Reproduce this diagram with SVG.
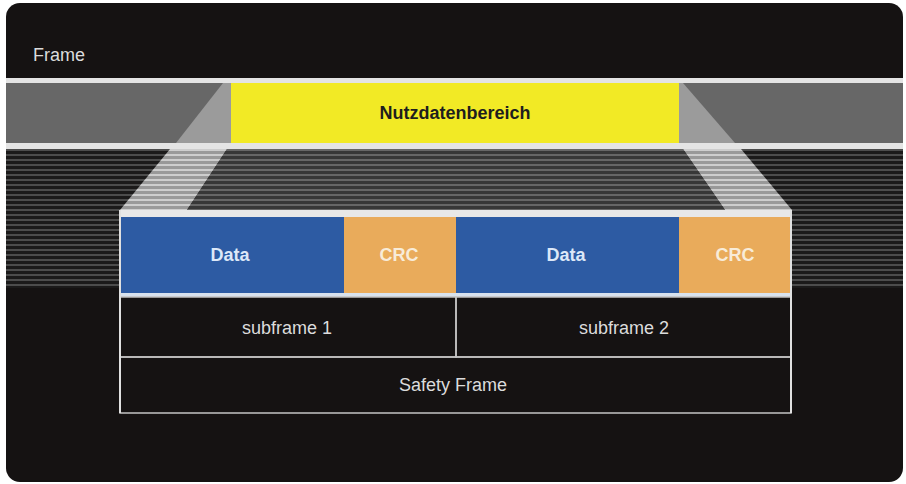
<svg xmlns="http://www.w3.org/2000/svg" width="906" height="484" viewBox="0 0 906 484">
  <defs>
    <pattern id="pDark" patternUnits="userSpaceOnUse" x="0" y="149" width="10" height="5">
      <rect width="10" height="5" fill="#1b1a1a"/>
      <rect y="0" width="10" height="2" fill="#4c4c4c"/>
    </pattern>
    <pattern id="pMid" patternUnits="userSpaceOnUse" x="0" y="149" width="10" height="5">
      <rect width="10" height="5" fill="#373737"/>
      <rect y="0" width="10" height="2" fill="#666666"/>
    </pattern>
    <pattern id="pLight" patternUnits="userSpaceOnUse" x="0" y="149" width="10" height="5">
      <rect width="10" height="5" fill="#999999"/>
      <rect y="0" width="10" height="2" fill="#cdcdcd"/>
    </pattern>
    <style>
      text { font-family: "Liberation Sans", Arial, sans-serif; text-anchor: middle; }
      .lbl { fill: #dcdcdc; font-size: 18px; }
      .bold { font-weight: bold; font-size: 18px; }
      .wline { fill: #e4e4e4; }
      .cell { fill: none; stroke: #c4c4c4; stroke-width: 1.5; }
    </style>
  </defs>

  <rect x="0" y="0" width="906" height="484" fill="#ffffff"/>
  <rect id="background" x="6" y="3" width="897" height="479" rx="14" fill="#151212"/>

  <g id="frame-label">
    <text x="33" y="61" class="lbl" style="text-anchor:start">Frame</text>
  </g>

  <g id="frame-band">
    <rect x="6" y="78" width="897" height="5" class="wline"/>
    <rect x="6" y="83" width="897" height="60" fill="#676767"/>
    <rect x="6" y="143" width="897" height="6" class="wline"/>
    <rect x="6" y="149" width="897" height="139" fill="url(#pDark)"/>
  </g>

  <g id="funnel">
    <polygon points="223,83 231,83 231,143 176,143" fill="#9b9b9b"/>
    <polygon points="679,83 683,83 735,143 679,143" fill="#9b9b9b"/>
    <polygon points="170,149 227,149 187,210 120,210" fill="url(#pLight)"/>
    <polygon points="683,149 741,149 792,210 725,210" fill="url(#pLight)"/>
    <polygon points="227,149 683,149 725,210 187,210" fill="url(#pMid)"/>
  </g>

  <g id="nutzdatenbereich">
    <rect x="231" y="83" width="448" height="60" fill="#f2ea25"/>
    <text x="455" y="119" class="bold" fill="#1e1e1e">Nutzdatenbereich</text>
  </g>

  <g id="safety-frame-box">
    <rect x="119" y="210" width="673" height="7" fill="#e8e8e8"/>
    <rect x="120" y="217" width="671" height="196" fill="#151212"/>
  </g>

  <g id="data1">
    <rect x="120" y="217" width="224" height="76" fill="#2d5ba3"/>
    <text x="230" y="261" class="bold" fill="#dce8f8">Data</text>
  </g>
  <g id="crc1">
    <rect x="344" y="217" width="112" height="76" fill="#e9ab5b"/>
    <text x="399" y="261" class="bold" fill="#f8ecd8">CRC</text>
  </g>
  <g id="data2">
    <rect x="456" y="217" width="223" height="76" fill="#2d5ba3"/>
    <text x="566" y="261" class="bold" fill="#dce8f8">Data</text>
  </g>
  <g id="crc2">
    <rect x="679" y="217" width="112" height="76" fill="#e9ab5b"/>
    <text x="735" y="261" class="bold" fill="#f8ecd8">CRC</text>
  </g>

  <g id="separator">
    <rect x="120" y="293" width="671" height="4" fill="#d8e2ee"/>
  </g>

  <g id="subframe1">
    <rect x="120" y="297" width="336" height="60" class="cell"/>
    <text x="287" y="334" class="lbl">subframe 1</text>
  </g>
  <g id="subframe2">
    <rect x="456" y="297" width="335" height="60" class="cell"/>
    <text x="624" y="334" class="lbl">subframe 2</text>
  </g>
  <g id="safety-frame">
    <rect x="120" y="357" width="671" height="56" class="cell"/>
    <text x="453" y="391" class="lbl">Safety Frame</text>
  </g>
  <rect x="119" y="210" width="2" height="203" fill="#e0e0e0"/>
  <rect x="790" y="210" width="2" height="203" fill="#e0e0e0"/>
</svg>
